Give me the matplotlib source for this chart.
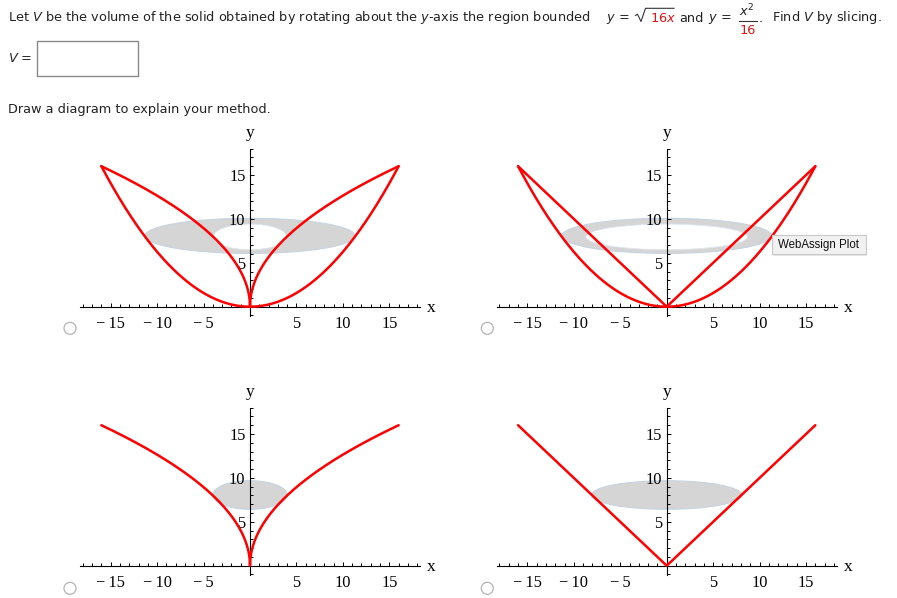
import numpy as np
import matplotlib.pyplot as plt
from matplotlib.patches import Ellipse, Rectangle, Circle, FancyBboxPatch
from matplotlib.ticker import MultipleLocator

plt.rcParams["mathtext.fontset"] = "dejavusans"

W, H = 897, 598

# curves from the question: y = sqrt(16x), y = x^2/16 and the wrong option y = |x|
x_vals = np.linspace(-16, 16, 801)
root_curve = np.sqrt(16 * np.abs(x_vals))
parab_curve = x_vals ** 2 / 16
line_curve = np.abs(x_vals)

x_ticks = [-15, -10, -5, 5, 10, 15]
x_tick_labels = ["\u2212\u200915", "\u2212\u200910", "\u2212\u20095", "5", "10", "15"]
y_ticks = [5, 10, 15]
y_tick_labels = ["5", "10", "15"]

# slice drawn in each option (top-left, top-right, bottom-left, bottom-right)
slice_level = 8.0
outer_radius = [11.3, 11.3, 4.0, 8.1]
inner_radius = [3.95, 8.7, 0.0, 0.0]

RED = "#ff0000"
SERIF = ["Liberation Serif", "DejaVu Serif"]

fig = plt.figure(figsize=(W / 100, H / 100), dpi=100)

sx, sy = 9.29, 8.78  # pixels per unit
x0, x1 = -18.3, 18.3
y0, y1 = -1.1, 18.0


def panel(ox, oy, curves, r_out, r_in, disk):
    left = ox + x0 * sx
    bot = oy - y0 * sy
    ax = fig.add_axes([left / W, 1 - bot / H, (x1 - x0) * sx / W, (y1 - y0) * sy / H])
    ax.set_xlim(x0, x1)
    ax.set_ylim(y0, y1)
    ax.patch.set_visible(False)
    for s in ["top", "right"]:
        ax.spines[s].set_visible(False)
    ax.spines["left"].set_position(("data", 0))
    ax.spines["bottom"].set_position(("data", 0))
    for s in ["left", "bottom"]:
        ax.spines[s].set_linewidth(0.8)

    ax.set_xticks(x_ticks, x_tick_labels, fontfamily=SERIF, fontsize=11.8)
    ax.set_yticks(y_ticks, y_tick_labels, fontfamily=SERIF, fontsize=11.8)
    ax.xaxis.set_minor_locator(MultipleLocator(1))
    ax.yaxis.set_minor_locator(MultipleLocator(1))
    ax.tick_params(axis="x", which="both", direction="in", pad=6.8, width=0.7)
    ax.tick_params(axis="y", which="both", direction="in", pad=3.2, width=0.7)
    ax.tick_params(which="major", length=3.2)
    ax.tick_params(which="minor", length=2.2)

    if disk:
        ax.add_patch(Ellipse((0, slice_level + 0.05), 2 * r_out, 3.26,
                             fc="#d5d5d5", ec="#c8d3de", lw=0.8, zorder=1))
    else:
        ax.add_patch(Ellipse((0, slice_level + 0.07), 2 * r_out, 4.0,
                             fc="#d5d5d5", ec="#c8d3de", lw=0.8, zorder=1))
        ax.add_patch(Ellipse((0, slice_level - 0.05), 2 * r_in, 2.92,
                             fc="white", ec="#dfe6ee", lw=0.6, zorder=1.5))

    for c in curves:
        ax.plot(x_vals, c, color=RED, lw=1.8, zorder=3,
                solid_joinstyle="round", solid_capstyle="round")

    ax.text(0, 19.75, "y", ha="center", va="center", fontfamily=SERIF,
            fontsize=12.5, clip_on=False)
    ax.text(19.55, -0.2, "x", ha="center", va="center", fontfamily=SERIF,
            fontsize=12.5, clip_on=False)
    return ax


panel(250, 306.7, [root_curve, parab_curve], outer_radius[0], inner_radius[0], False)
panel(666.7, 306.7, [line_curve, parab_curve], outer_radius[1], inner_radius[1], False)
panel(250, 565.7, [root_curve], outer_radius[2], inner_radius[2], True)
panel(666.7, 565.7, [line_curve], outer_radius[3], inner_radius[3], True)

# page overlay in pixel units
ov = fig.add_axes([0, 0, 1, 1], zorder=10)
ov.set_xlim(0, W)
ov.set_ylim(H, 0)
ov.axis("off")

fs = 9.3
txt = "#222222"
ov.text(8, 21.5, "Let $V$ be the volume of the solid obtained by rotating about the $y$-axis the region bounded",
        fontsize=fs, color=txt, va="baseline")
ov.text(606, 21.5, "$y$ =", fontsize=fs, color=txt, va="baseline")
ov.plot([635.5, 637.5, 641, 645.5, 674], [15.5, 14.2, 21.5, 8.3, 8.3], color="#333333", lw=0.8)
ov.text(650, 21.5, "16$x$", fontsize=fs, color="#e01010", va="baseline")
ov.text(679, 21.5, "and", fontsize=fs, color=txt, va="baseline")
ov.text(708, 21.5, "$y$ =", fontsize=fs, color=txt, va="baseline")
ov.text(747, 16.5, "$x^2$", fontsize=fs, color=txt, va="baseline", ha="center")
ov.plot([739, 757], [20.5, 20.5], color="#333333", lw=0.8)
ov.text(748, 33.5, "16", fontsize=fs, color="#e01010", va="baseline", ha="center")
ov.text(758.5, 21.5, ".", fontsize=fs, color=txt, va="baseline")
ov.text(771.5, 21.5, "Find $V$ by slicing.", fontsize=fs, color=txt, va="baseline")

ov.text(8, 61.5, "$V$ =", fontsize=fs, color=txt, va="baseline")
ov.add_patch(Rectangle((37, 40.5), 101, 35, fc="white", ec="#8a8a8a", lw=1.0))
ov.text(8, 112.5, "Draw a diagram to explain your method.", fontsize=fs, color=txt, va="baseline")

# radio buttons
for cx, cy in [(70, 328.3), (487.3, 328.3), (70, 588.3), (487.3, 588.3)]:
    ov.add_patch(Circle((cx, cy), 6.0, fc="white", ec="#b4b4b4", lw=0.9))

# tooltip
ov.add_patch(FancyBboxPatch((773, 237), 94, 19, boxstyle="square,pad=0",
                            fc="#d0d0d0", ec="none", alpha=0.5))
ov.add_patch(FancyBboxPatch((771.5, 235), 94, 19, boxstyle="square,pad=0",
                            fc="#f1f1f1", ec="#c9c9c9", lw=0.8))
ov.text(818.5, 244.8, "WebAssign Plot", fontsize=8.3, fontfamily="Liberation Sans",
        color="#111111", ha="center", va="center")

fig.savefig("out.png", dpi=100)
